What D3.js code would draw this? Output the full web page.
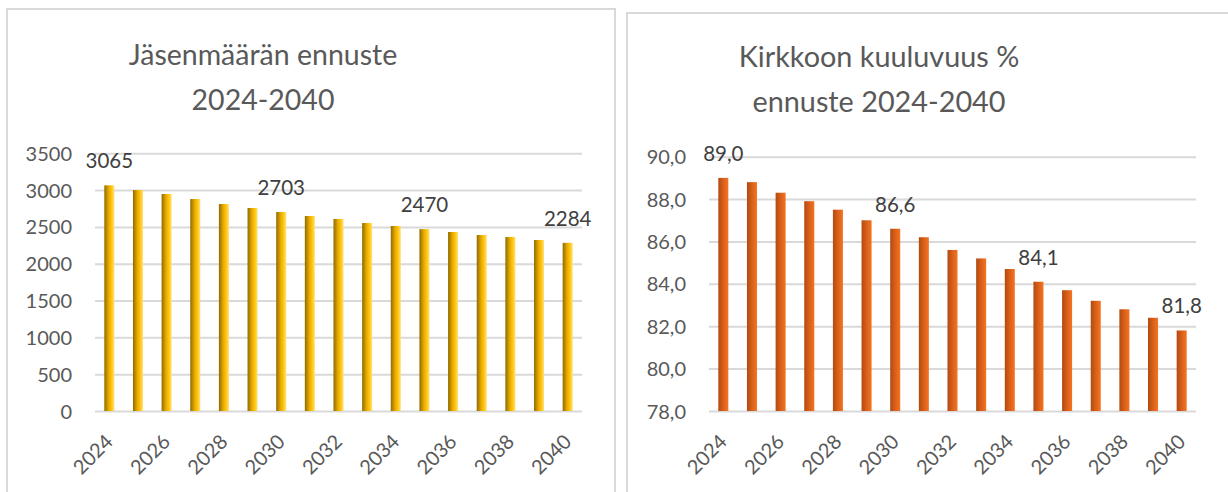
<!DOCTYPE html>
<html>
<head>
<meta charset="utf-8">
<script src="https://cdn.jsdelivr.net/npm/d3@7/dist/d3.min.js"></script>
<style>
  html, body { margin: 0; padding: 0; background: #fff; }
  svg { display: block; }
  text { font-family: Lato, "Open Sans", sans-serif; }
</style>
</head>
<body>
<svg id="chart" width="1228" height="492"></svg>
<script>
// ---- data ----
const years = ["2024","2025","2026","2027","2028","2029","2030","2031","2032","2033","2034","2035","2036","2037","2038","2039","2040"];
const members = [3065, 3001, 2947, 2879, 2811, 2757, 2703, 2648, 2608, 2553, 2513, 2470, 2431, 2390, 2363, 2322, 2284];
const share = [89.0, 88.8, 88.3, 87.9, 87.5, 87.0, 86.6, 86.2, 85.6, 85.2, 84.7, 84.1, 83.7, 83.2, 82.8, 82.4, 81.8];
const labeledYears = ["2024", "2030", "2035", "2040"];
const xTickYears = ["2024","2026","2028","2030","2032","2034","2036","2038","2040"];
const membersTicks = [0, 500, 1000, 1500, 2000, 2500, 3000, 3500];
const shareTicks = [78, 80, 82, 84, 86, 88, 90];
const titleLeft = ["Jäsenmäärän ennuste", "2024-2040"];
const titleRight = ["Kirkkoon kuuluvuus %", "ennuste 2024-2040"];

const svg = d3.select("#chart");
svg.append("rect").attr("width", 1228).attr("height", 492).attr("fill", "#fff");

const defs = svg.append("defs");
function grad(id, stops) {
  const g = defs.append("linearGradient").attr("id", id)
    .attr("x1", "0%").attr("x2", "100%").attr("y1", "0%").attr("y2", "0%");
  stops.forEach(s => g.append("stop").attr("offset", s[0]).attr("stop-color", s[1]));
}
grad("gYellow", [["0%", "#8f6a00"], ["45%", "#e8ac00"], ["70%", "#ffc20a"], ["100%", "#ffe27a"]]);
grad("gOrange", [["0%", "#b04a12"], ["50%", "#d9601a"], ["100%", "#f47420"]]);

const fmtComma = d => d3.format(".1f")(d).replace(".", ",");

function panel(cfg) {
  const g = svg.append("g");
  // frame
  g.append("rect").attr("x", cfg.frame[0]).attr("y", cfg.frame[1])
    .attr("width", cfg.frame[2]).attr("height", cfg.frame[3])
    .attr("fill", "none").attr("stroke", "#d9d9d9").attr("stroke-width", 2);

  const x = d3.scaleBand().domain(years).range(cfg.xRange).paddingInner(0.65).paddingOuter(0.325);
  const y = d3.scaleLinear().domain(cfg.yDomain).range(cfg.yRange);

  // gridlines
  const grid = d3.axisLeft(y).tickValues(cfg.ticks).tickSize(-(cfg.xRange[1] - cfg.xRange[0])).tickFormat("");
  const gg = g.append("g").attr("transform", `translate(${cfg.xRange[0]},0)`).call(grid);
  gg.select(".domain").remove();
  gg.selectAll("line").attr("stroke", "#d9d9d9").attr("stroke-width", 2);

  // y tick labels
  const yAx = d3.axisLeft(y).tickValues(cfg.ticks).tickSize(0).tickPadding(0).tickFormat(cfg.tickFmt);
  const ya = g.append("g").attr("transform", `translate(${cfg.yLabelX},0)`).call(yAx);
  ya.select(".domain").remove();
  ya.selectAll("text").attr("fill", "#595959").style("font-size", "20px")
    .style("font-family", "Lato, 'Open Sans', sans-serif").attr("dy", "0.35em");

  // bars
  g.selectAll(".bar").data(years).enter().append("rect")
    .attr("x", d => x(d)).attr("width", x.bandwidth())
    .attr("y", (d, i) => y(cfg.values[i]))
    .attr("height", (d, i) => y(cfg.yDomain[0]) - y(cfg.values[i]))
    .attr("fill", `url(#${cfg.gradId})`);

  // x axis labels
  const xAx = d3.axisBottom(x).tickValues(xTickYears).tickSize(0).tickPadding(0);
  const xa = g.append("g").attr("transform", `translate(0,${cfg.yRange[0]})`).call(xAx);
  xa.select(".domain").remove();
  xa.selectAll("text").attr("fill", "#595959").style("font-size", "20px")
    .style("font-family", "Lato, 'Open Sans', sans-serif")
    .attr("text-anchor", "end").attr("dy", "0.35em")
    .attr("transform", "translate(0,27) rotate(-45)").attr("y", 0).attr("x", 0);

  // data labels
  g.selectAll(".lbl").data(years.filter(d => labeledYears.includes(d))).enter().append("text")
    .attr("x", d => x(d) + x.bandwidth() / 2)
    .attr("y", d => y(cfg.values[years.indexOf(d)]) - 17)
    .attr("text-anchor", "middle").attr("fill", "#404040").style("font-size", "20.5px")
    .text(d => cfg.labelFmt(cfg.values[years.indexOf(d)]));

  // title
  const t = g.append("text").attr("text-anchor", "middle").attr("fill", "#595959").style("font-size", cfg.titleSize);
  cfg.title.forEach((line, i) => {
    t.append("tspan").attr("x", cfg.titleX).attr("y", cfg.titleY + i * 45).text(line);
  });
}

panel({
  frame: [7, 9, 608, 500],
  xRange: [95, 582], yDomain: [0, 3500], yRange: [411, 153.3],
  ticks: membersTicks, tickFmt: d3.format("d"), yLabelX: 72,
  values: members, gradId: "gYellow", labelFmt: d3.format("d"),
  title: titleLeft, titleX: 263, titleY: 65, titleSize: "28.5px"
});
panel({
  frame: [627, 13, 620, 500],
  xRange: [709, 1196], yDomain: [78, 90], yRange: [411, 156.7],
  ticks: shareTicks, tickFmt: fmtComma, yLabelX: 686,
  values: share, gradId: "gOrange", labelFmt: fmtComma,
  title: titleRight, titleX: 879, titleY: 67, titleSize: "28.8px"
});
</script>
</body>
</html>
